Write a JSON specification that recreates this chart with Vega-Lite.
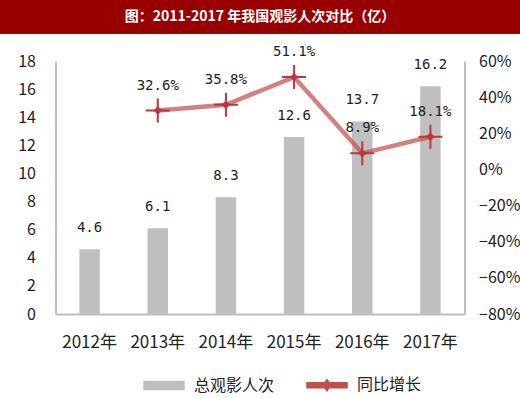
{
  "$schema": "https://vega.github.io/schema/vega-lite/v6.json",
  "background": "white",
  "padding": 0,
  "center": true,
  "bounds": "flush",
  "spacing": 27,
  "config": {"view": {"stroke": null}, "font": "Noto Sans CJK SC"},
  "vconcat": [
    {
      "width": 520,
      "height": 34,
      "view": {"fill": "#990000", "stroke": null},
      "data": {"values": [{"t": "图：2011-2017 年我国观影人次对比（亿）"}]},
      "mark": {"type": "text", "color": "white", "fontSize": 14, "fontWeight": "bold", "font": "Noto Sans CJK SC", "baseline": "middle", "align": "center"},
      "encoding": {"text": {"field": "t"}}
    },
    {
      "width": 409,
      "height": 253,
      "data": {
        "values": [
          {"year": "2012年", "total": 4.6, "growth": null},
          {"year": "2013年", "total": 6.1, "growth": 0.326},
          {"year": "2014年", "total": 8.3, "growth": 0.358},
          {"year": "2015年", "total": 12.6, "growth": 0.511},
          {"year": "2016年", "total": 13.7, "growth": 0.089},
          {"year": "2017年", "total": 16.2, "growth": 0.181}
        ]
      },
      "encoding": {
        "x": {
          "field": "year",
          "type": "nominal",
          "sort": null,
          "scale": {"paddingInner": 0.7, "paddingOuter": 0.35},
          "axis": {
            "title": null,
            "labelAngle": 0,
            "labelFontSize": 17,
            "labelColor": "#222",
            "labelPadding": 20,
            "ticks": false,
            "tickSize": 0,
            "domainColor": "#bfbfbf",
            "domainWidth": 2,
            "grid": false
          }
        }
      },
      "layer": [
        {
          "encoding": {
            "y": {
              "field": "total",
              "type": "quantitative",
              "scale": {"domain": [0, 18], "nice": false},
              "axis": {
                "title": null,
                "orient": "left",
                "values": [0, 2, 4, 6, 8, 10, 12, 14, 16, 18],
                "labelOverlap": false,
                "labelFontSize": 16,
                "labelColor": "#222",
                "labelPadding": 20,
                "ticks": false,
                "tickSize": 0,
                "grid": false,
                "domainColor": "#bfbfbf",
                "domainWidth": 2
              }
            }
          },
          "layer": [
            {
              "mark": {"type": "bar", "color": "#bfbfbf"},
              "encoding": {
                "color": {
                  "datum": "总观影人次",
                  "type": "nominal",
                  "scale": {"domain": ["总观影人次", "同比增长"], "range": ["#bfbfbf", "#c0504d"]},
                  "legend": {
                    "title": null,
                    "orient": "none",
                    "legendX": 156,
                    "legendY": 377,
                    "direction": "horizontal",
                    "labelFontSize": 16,
                    "labelColor": "#222",
                    "labelFont": "Noto Sans CJK SC",
                    "labelOffset": 22,
                    "columnPadding": 29,
                    "symbolSize": 100,
                    "symbolType": "M-4,-0.8H4V0.8H-4Z",
                    "encode": {
                      "symbols": {
                        "update": {
                          "shape": {"signal": "datum.value === '总观影人次' ? 'M-4,-0.8H4V0.8H-4Z' : 'M-4,-0.5H4V0.5H-4Z M0,-1.1L0.8,0L0,1.1L-0.8,0Z'"},
                          "fill": {"signal": "datum.value === '总观影人次' ? '#bfbfbf' : '#c75a5a'"},
                          "stroke": {"value": "transparent"},
                          "opacity": {"value": 1},
                          "fillOpacity": {"value": 1},
                          "size": {"value": 100}
                        }
                      }
                    }
                  }
                }
              }
            },
            {
              "mark": {"type": "text", "font": "DejaVu Sans Mono", "fontSize": 14, "color": "#222", "dy": -21, "baseline": "middle"},
              "encoding": {
                "text": {"field": "total", "type": "quantitative", "format": ".1f"}
              }
            }
          ]
        },
        {
          "transform": [{"filter": "isValid(datum.growth)"}],
          "encoding": {
            "y": {
              "field": "growth",
              "type": "quantitative",
              "scale": {"domain": [-0.8, 0.6], "nice": false, "zero": false},
              "axis": {
                "title": null,
                "orient": "right",
                "values": [-0.8, -0.6, -0.4, -0.2, 0, 0.2, 0.4, 0.6],
                "labelOverlap": false,
                "format": ".0%",
                "labelFontSize": 16,
                "labelColor": "#222",
                "labelPadding": 14,
                "ticks": false,
                "tickSize": 0,
                "grid": false,
                "domainColor": "#bfbfbf",
                "domainWidth": 2
              }
            }
          },
          "layer": [
            {
              "mark": {"type": "line", "strokeWidth": 4.5, "opacity": 0.72},
              "encoding": {
                "color": {"datum": "同比增长", "type": "nominal"}
              }
            },
            {
              "mark": {"type": "point", "shape": "M-1,0H1M0,-1V1", "size": 576, "filled": false, "stroke": "#c0343c", "strokeWidth": 2, "opacity": 1}
            },
            {
              "mark": {"type": "point", "shape": "diamond", "size": 70, "filled": true, "color": "#c0343c", "opacity": 1}
            },
            {
              "mark": {"type": "text", "font": "DejaVu Sans Mono", "fontSize": 14, "color": "#222", "dy": -25, "baseline": "middle"},
              "encoding": {
                "text": {"field": "growth", "type": "quantitative", "format": ".1%"}
              }
            }
          ]
        }
      ],
      "resolve": {"scale": {"y": "independent"}}
    }
  ]
}
